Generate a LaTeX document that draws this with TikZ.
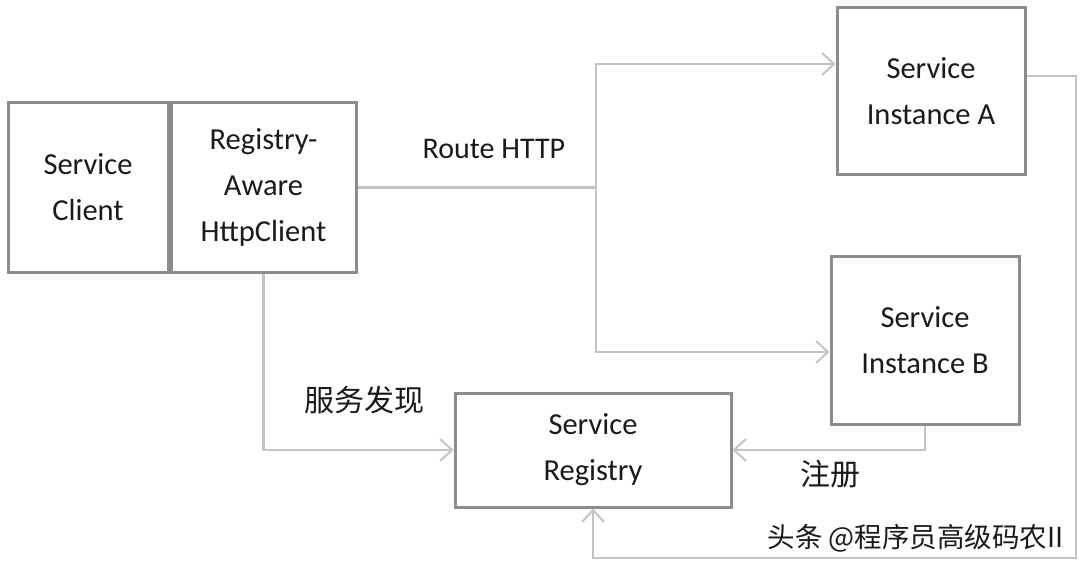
\documentclass[tikz,border=0pt]{standalone}
\usepackage{fontspec}
\setmainfont{Carlito}
\newfontfamily\cjk{Noto Sans CJK SC}
\usetikzlibrary{arrows.meta}
\definecolor{boxgray}{HTML}{8C8C8C}
\definecolor{linegray}{HTML}{C4C4C4}
\definecolor{txt}{HTML}{1A1A1A}
\begin{document}
\begin{tikzpicture}[x=1pt,y=-1pt,
  box/.style={draw=boxgray, line width=3pt, fill=white, inner sep=0pt, align=center,
    text=txt, font=\fontsize{30.5}{46}\selectfont},
  conn/.style={draw=linegray, line width=2.5pt},
  arr/.style={conn, -{Straight Barb[length=12pt,width=22pt,line width=2pt]}},
  lbl/.style={text=txt, font=\fontsize{30}{36}\selectfont},
  cjklbl/.style={text=txt, font=\cjk\fontsize{30}{36}\selectfont}]
\useasboundingbox (0,0) rectangle (1080,567);
\fill[white] (0,0) rectangle (1080,567);
% nodes
\node[box, minimum width=160pt, minimum height=169pt] (SC) at (88,187.5) {Service\\Client};
\node[box, minimum width=185pt, minimum height=169pt] (RA) at (263.5,187.5) {Registry-\\Aware\\HttpClient};
\node[box, minimum width=188pt, minimum height=167pt] (IA) at (931,91.5) {Service\\Instance A};
\node[box, minimum width=188pt, minimum height=168pt] (IB) at (925,340) {Service\\Instance B};
\node[box, minimum width=276pt, minimum height=114pt] (SR) at (593,450) {Service\\Registry};
% connectors
\coordinate (br) at (596,187.5);
\coordinate (loop) at (1076,558);
\draw[conn] (RA.east) -- (br);
\draw[arr] (br) |- ([yshift=27.5pt]IA.west);
\draw[arr] (br) |- ([yshift=-12pt]IB.west);
\draw[arr] (RA.south) |- (SR.west);
\draw[arr] (IB.south) |- (SR.east);
\draw[arr] ([yshift=15.5pt]IA.east) -| (loop) -| (SR.south);
% labels
\node[lbl] (route) at (494,149) {Route HTTP};
\node[cjklbl] (disc) at (364,400) {服务发现};
\node[cjklbl] (reg) at (830,474) {注册};
\node[text=txt, font=\cjk\fontsize{27.5}{32}\selectfont, anchor=east] (wm) at (1067,538) {头条 @程序员高级码农II};
\end{tikzpicture}
\end{document}
